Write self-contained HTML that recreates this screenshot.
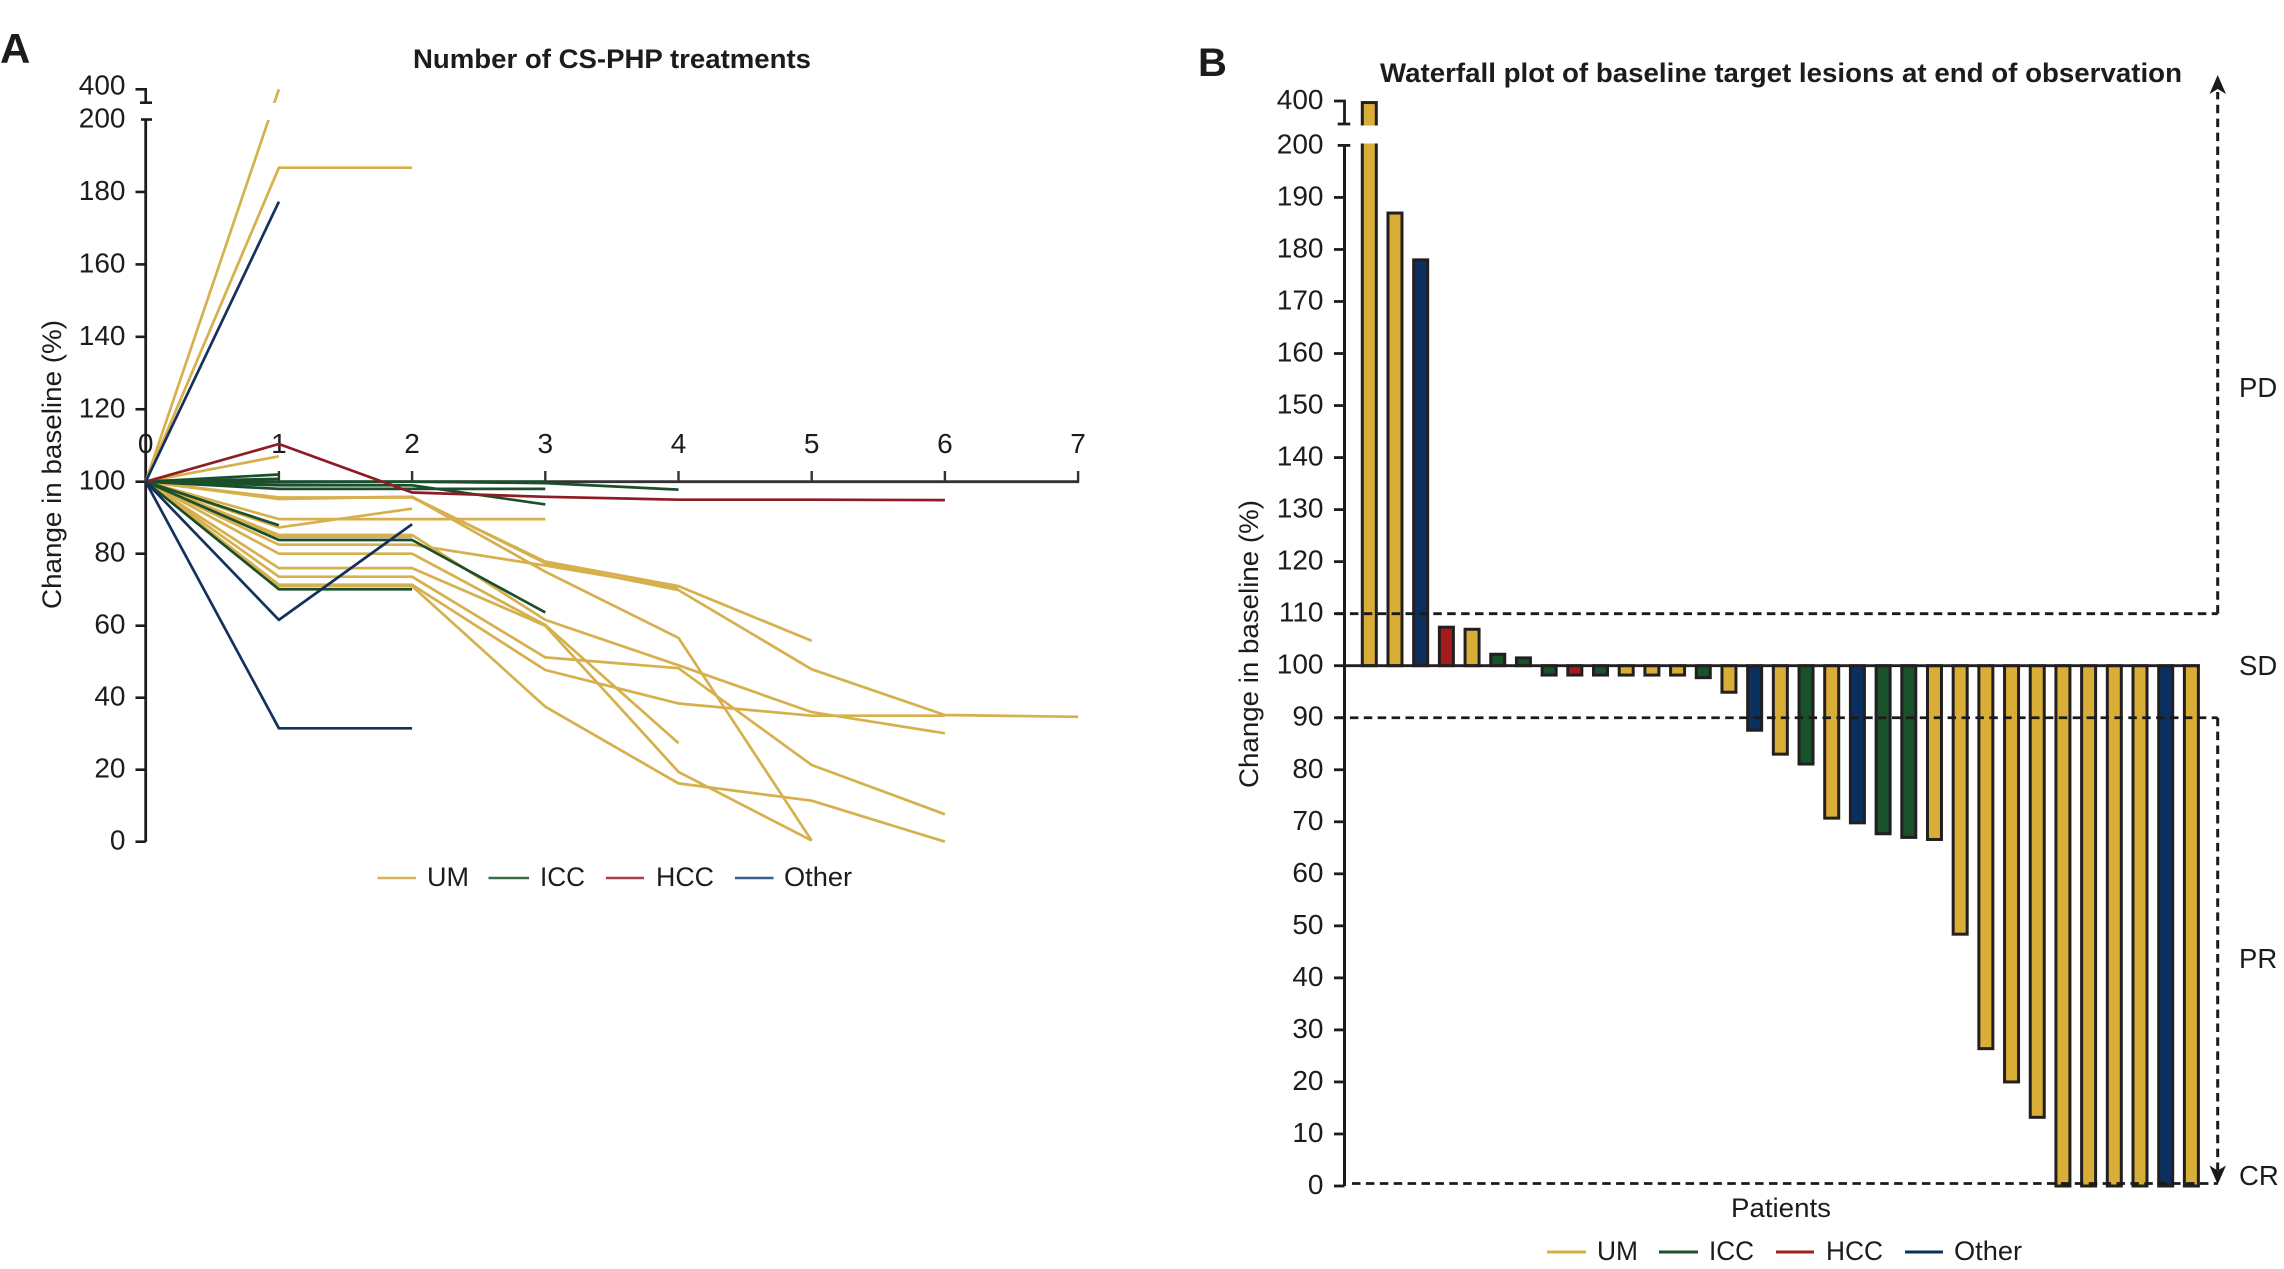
<!DOCTYPE html>
<html lang="en">
<head>
<meta charset="utf-8">
<title>CS-PHP treatment response charts</title>
<style>
html,body{margin:0;padding:0;background:#fff;}
svg{display:block;}
text{font-family:"Liberation Sans",sans-serif;fill:#1c1c1c;}
</style>
</head>
<body>
<svg id="figure" width="2284" height="1269" viewBox="0 0 2284 1269" xmlns="http://www.w3.org/2000/svg">
  <rect x="0" y="0" width="2284" height="1269" fill="#fff"/>
  <text x="0" y="63" font-size="42" font-weight="700">A</text>
  <text x="1198" y="76" font-size="40" font-weight="700">B</text>
  <text x="413" y="68" font-size="27" font-weight="700" textLength="398" lengthAdjust="spacingAndGlyphs">Number of CS-PHP treatments</text>
  <text x="1380" y="82" font-size="27" font-weight="700" textLength="802" lengthAdjust="spacingAndGlyphs">Waterfall plot of baseline target lesions at end of observation</text>
  <text transform="translate(61 464.5) rotate(-90)" text-anchor="middle" font-size="27" textLength="289" lengthAdjust="spacingAndGlyphs">Change in baseline (%)</text>
  <text transform="translate(1258 644) rotate(-90)" text-anchor="middle" font-size="27" textLength="288" lengthAdjust="spacingAndGlyphs">Change in baseline (%)</text>
  <text x="1781" y="1217" text-anchor="middle" font-size="27" textLength="100" lengthAdjust="spacingAndGlyphs">Patients</text>

  <g id="panel-a"></g>
  <g id="panel-b"></g>

  <text x="2239" y="397" font-size="27.5">PD</text>
  <text x="2239" y="675" font-size="27.5">SD</text>
  <text x="2239" y="968" font-size="27.5">PR</text>
  <text x="2239" y="1185" font-size="27.5">CR</text>

  <g>
    <line x1="377.5" x2="416" y1="878" y2="878" stroke="#d4b35c" stroke-width="2.5"/>
    <text x="427" y="886" font-size="27" textLength="42" lengthAdjust="spacingAndGlyphs">UM</text>
    <line x1="488.5" x2="529" y1="878" y2="878" stroke="#3a6b4a" stroke-width="2.5"/>
    <text x="540" y="886" font-size="27" textLength="45" lengthAdjust="spacingAndGlyphs">ICC</text>
    <line x1="606" x2="644" y1="878" y2="878" stroke="#a8404a" stroke-width="2.5"/>
    <text x="656" y="886" font-size="27" textLength="58" lengthAdjust="spacingAndGlyphs">HCC</text>
    <line x1="735" x2="773.5" y1="878" y2="878" stroke="#3a5f8c" stroke-width="2.5"/>
    <text x="784" y="886" font-size="27" textLength="68" lengthAdjust="spacingAndGlyphs">Other</text>
  </g>
  <g>
    <line x1="1547" x2="1586" y1="1252" y2="1252" stroke="#d8ae3c" stroke-width="3"/>
    <text x="1597" y="1260" font-size="27" textLength="41" lengthAdjust="spacingAndGlyphs">UM</text>
    <line x1="1659" x2="1698" y1="1252" y2="1252" stroke="#17522a" stroke-width="3"/>
    <text x="1709" y="1260" font-size="27" textLength="45" lengthAdjust="spacingAndGlyphs">ICC</text>
    <line x1="1776" x2="1814" y1="1252" y2="1252" stroke="#a51c1c" stroke-width="3"/>
    <text x="1826" y="1260" font-size="27" textLength="57" lengthAdjust="spacingAndGlyphs">HCC</text>
    <line x1="1905" x2="1943" y1="1252" y2="1252" stroke="#0b2f5e" stroke-width="3"/>
    <text x="1954" y="1260" font-size="27" textLength="68" lengthAdjust="spacingAndGlyphs">Other</text>
  </g>
</svg>
<script>
// ---- Panel A data ----
const treatmentTicks = [0, 1, 2, 3, 4, 5, 6, 7];
const panelAYTicks = [0, 20, 40, 60, 80, 100, 120, 140, 160, 180, 200];
const panelABreakTick = 400;
const umTraces = [
  [100, 400],
  [100, 186.7, 186.7],
  [100, 107],
  [100, 95.4, 95.8, 77.4, 69.9, 47.9, 35.2, 34.7],
  [100, 95.6, 95.6, 77.8, 71, 55.8],
  [100, 95.2, 95.8, 75, 56.6, 0.3],
  [100, 89.6, 89.6, 89.6],
  [100, 87.3, 92.5],
  [100, 85.2, 85.2, 61.6, 49, 36, 30.1],
  [100, 84.7, 84.7],
  [100, 82.5, 82.5, 76.7, 70.5],
  [100, 80, 80, 60.2, 27.4],
  [100, 76, 76, 60, 19.4, 0.3],
  [100, 73.6, 73.6, 51.2, 48.2, 21.3, 7.6],
  [100, 71.4, 71.4, 47.7, 38.4, 35, 35],
  [100, 71, 71, 37.5, 16.2, 11.4, 0]
];
const iccTraces = [
  [100, 102],
  [100, 100.8],
  [100, 100, 100, 100],
  [100, 99.8, 100, 99.6, 97.8],
  [100, 98, 98, 98],
  [100, 99, 99, 93.7],
  [100, 87.9],
  [100, 83.8, 83.8, 63.7],
  [100, 70.1, 70.1]
];
const hccTraces = [
  [100, 110.4, 97, 95.8, 95, 95, 94.9]
];
const otherTraces = [
  [100, 177.3],
  [100, 61.6, 88.2],
  [100, 31.5, 31.5]
];

// ---- Panel B data ----
const patientChangeValues = [
  393, 187, 178, 107.4, 107, 102.2, 101.5, 98.2, 98.2, 98.2, 98.2,
  98.2, 98.2, 97.7, 94.9, 87.6, 83, 81.1, 70.7, 69.8, 67.7, 67,
  66.6, 48.4, 26.4, 20, 13.2, 0, 0, 0, 0, 0, 0
];
const patientTumorTypes = [
  "UM", "UM", "Other", "HCC", "UM", "ICC", "ICC", "ICC", "HCC", "ICC", "UM",
  "UM", "UM", "ICC", "UM", "Other", "UM", "ICC", "UM", "Other", "ICC", "ICC",
  "UM", "UM", "UM", "UM", "UM", "UM", "UM", "UM", "UM", "Other", "UM"
];
const panelBYTicks = [0, 10, 20, 30, 40, 50, 60, 70, 80, 90, 100, 110, 120, 130, 140, 150, 160, 170, 180, 190, 200];
const panelBBreakTick = 400;
const responseThresholds = [110, 90, 0];

// ---- Helpers ----
const SVG_NS = "http://www.w3.org/2000/svg";
const INK = "#1c1c1c";
const barColors = { UM: "#d8ae36", ICC: "#17522a", HCC: "#a51c1c", Other: "#0b2f5e" };

function make(parent, tag, attrs, content) {
  const el = document.createElementNS(SVG_NS, tag);
  for (const key in attrs) el.setAttribute(key, attrs[key]);
  if (content !== undefined) el.textContent = content;
  parent.appendChild(el);
  return el;
}

// ---- Panel A axes ----
const panelA = document.getElementById("panel-a");
function ax(n) { return 145.7 + n * 133.2; }
function ay(v) {
  if (v > 200) return 119.5 - (v - 200) * (119.5 - 89.3) / 200;
  if (v >= 100) return 481.7 - (v - 100) * 3.622;
  return 481.7 + (100 - v) * 3.6;
}

function drawTraces(traces, color, width, label) {
  traces.forEach(function (trace) {
    const pts = trace.map(function (v, i) { return ax(treatmentTicks[i]).toFixed(1) + "," + ay(v).toFixed(1); }).join(" ");
    const line = make(panelA, "polyline", { points: pts, fill: "none", stroke: color, "stroke-width": width, "stroke-linejoin": "round" });
    
    
  });
}

const aYAxis = make(panelA, "line", { x1: 145.7, x2: 145.7, y1: ay(200), y2: ay(0), stroke: INK, "stroke-width": 2.8 });



panelAYTicks.forEach(function (t) {
  const isTop = t === 200;
  const tick = make(panelA, "line", { x1: isTop ? 141 : 135.5, x2: isTop ? 152 : 145.7, y1: ay(t), y2: ay(t), stroke: INK, "stroke-width": 2.6 });
  
  
  const label = make(panelA, "text", { x: 125.5, y: ay(t) + 8, "text-anchor": "end", "font-size": 28 }, String(t));
  
  
});

const aStub = make(panelA, "path", { d: "M135.5 " + ay(panelABreakTick) + "H145.7V102.7M140 102.7H152", fill: "none", stroke: INK, "stroke-width": 2.6 });


const aBreakLabel = make(panelA, "text", { x: 125.5, y: ay(panelABreakTick) + 5, "text-anchor": "end", "font-size": 28 }, String(panelABreakTick));



const aXAxis = make(panelA, "line", { x1: ax(0), x2: ax(7) + 1, y1: ay(100), y2: ay(100), stroke: "#333", "stroke-width": 2.8 });



treatmentTicks.forEach(function (t) {
  if (t > 0) {
    const tick = make(panelA, "line", { x1: ax(t), x2: ax(t), y1: ay(100), y2: 471, stroke: "#333", "stroke-width": 2.4 });
    
    
  }
  const label = make(panelA, "text", { x: ax(t), y: 453, "text-anchor": "middle", "font-size": 28 }, String(t));
  
  
});

drawTraces(umTraces, "#d6b04c", 2.7, "um-trace");
drawTraces(iccTraces, "#1b4f2c", 2.7, "icc-trace");
drawTraces(hccTraces, "#8e1c24", 2.7, "hcc-trace");
drawTraces(otherTraces, "#14305c", 2.7, "other-trace");

const aBand = make(panelA, "rect", { x: 240, y: 103, width: 60, height: 17, fill: "#fff" });



// ---- Panel B axes ----
const panelB = document.getElementById("panel-b");
function bx(i) { return 1369.3 + i * 25.69; }
function by(v) {
  if (v > 200) return 145.4 - (v - 200) * (145.4 - 101) / 200;
  return 1186 - v * 5.203;
}

patientChangeValues.forEach(function (v, i) {
  const top = Math.min(by(v), by(100));
  const h = Math.abs(by(v) - by(100));
  const bar = make(panelB, "rect", { x: bx(i) - 7, y: top, width: 14, height: h, fill: barColors[patientTumorTypes[i]], stroke: "#231f20", "stroke-width": 3 });
  
  
});

const bBand = make(panelB, "rect", { x: 1352, y: 125.5, width: 40, height: 18, fill: "#fff" });



const bBase = make(panelB, "line", { x1: 1344, x2: bx(32) + 8.5, y1: by(100), y2: by(100), stroke: "#231f20", "stroke-width": 2.8 });



const bYAxis = make(panelB, "line", { x1: 1344.5, x2: 1344.5, y1: by(200), y2: by(0), stroke: INK, "stroke-width": 3 });



panelBYTicks.forEach(function (t) {
  const isTop = t === 200;
  const tick = make(panelB, "line", { x1: isTop ? 1337.7 : 1334, x2: isTop ? 1350.3 : 1344.5, y1: by(t), y2: by(t), stroke: INK, "stroke-width": 2.8 });
  
  
  const label = make(panelB, "text", { x: 1323.5, y: by(t) + 8, "text-anchor": "end", "font-size": 28 }, String(t));
  
  
});

const bStub = make(panelB, "path", { d: "M1334 " + by(panelBBreakTick) + "H1344.5V124M1337.7 124H1350.3", fill: "none", stroke: INK, "stroke-width": 2.8 });


const bBreakLabel = make(panelB, "text", { x: 1323.5, y: by(panelBBreakTick) + 8, "text-anchor": "end", "font-size": 28 }, String(panelBBreakTick));



responseThresholds.forEach(function (t) {
  const yPos = t === 0 ? by(0) - 2.5 : by(t);
  const dash = make(panelB, "line", { x1: t === 0 ? 1352 : 1336, x2: 2217.7, y1: yPos, y2: yPos, stroke: "#1a1a1a", "stroke-width": 2.8, "stroke-dasharray": "8.5 5.4" });
  
  
});

const upShaft = make(panelB, "line", { x1: 2217.7, x2: 2217.7, y1: by(110), y2: 92, stroke: "#1a1a1a", "stroke-width": 3, "stroke-dasharray": "8.5 5.4" });


const upHead = make(panelB, "polygon", { points: "2217.7,75 2226,94 2217.7,89 2209.5,94", fill: "#1a1a1a" });


const downShaft = make(panelB, "line", { x1: 2217.7, x2: 2217.7, y1: by(90), y2: 1170, stroke: "#1a1a1a", "stroke-width": 3, "stroke-dasharray": "8.5 5.4" });


const downHead = make(panelB, "polygon", { points: "2217.7,1184.5 2226,1165.5 2217.7,1170.5 2209.5,1165.5", fill: "#1a1a1a" });


</script>
</body>
</html>
